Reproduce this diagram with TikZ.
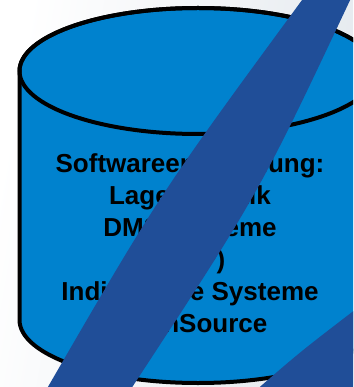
\documentclass[tikz,border=0pt]{standalone}
\usepackage{fontspec}
\setmainfont{Liberation Sans}
\definecolor{cylblue}{RGB}{0,130,206}
\definecolor{stripeblue}{RGB}{32,78,152}
\definecolor{bggray}{RGB}{228,233,238}
\tikzset{
  cylbody/.style={fill=cylblue, draw=black, line width=4pt, line join=round},
  cyltop/.style={draw=black, line width=4pt},
  stripe/.style={fill=stripeblue},
  cyltext/.style={font=\fontsize{26}{32}\selectfont\bfseries, align=center, text=black, inner sep=0pt}
}
\begin{document}
\begin{tikzpicture}[x=1pt,y=-1pt]
  \useasboundingbox (0,0) rectangle (353,387);
  \clip (0,0) rectangle (353,387);
  % background
  \shade[left color=white, right color=bggray, shading angle=80] (0,0) rectangle (353,387);
  % cylinder
  \path[cylbody] (19.5,71) -- (19.5,320)
     arc[start angle=180, end angle=0, x radius=178.5, y radius=63]
     -- (376.5,71)
     arc[start angle=0, end angle=-180, x radius=178.5, y radius=63] -- cycle;
  \draw[cyltop] (198,71) ellipse [x radius=178.5, y radius=63];
  % text (anchor base = baseline of the last line)
  \node[cyltext, anchor=base] (txt) at (190,332)
    {Softwareentwicklung:\\Lagerlogistik\\DMS-Systeme\\(ERP)\\Individuelle Systeme\\OpenSource};
  % stripes
  \fill[stripe] (305,-4) -- (352,-4) .. controls (259,193.5) .. (129,392)
     -- (45,392) .. controls (160,193.5) .. (305,-4) -- cycle;
  \fill[stripe] (254,392) .. controls (300,352) .. (360,306) -- (360,392) -- cycle;
\end{tikzpicture}
\end{document}
